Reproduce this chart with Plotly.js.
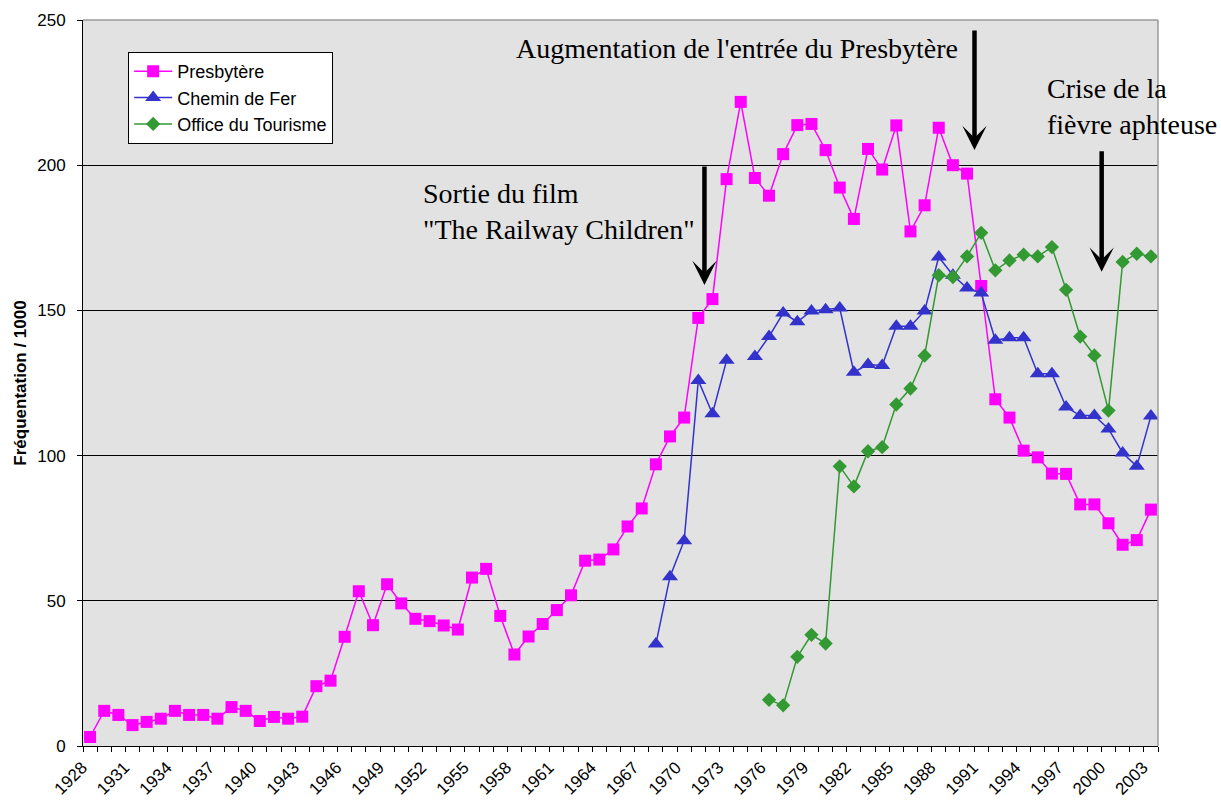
<!DOCTYPE html>
<html>
<head>
<meta charset="utf-8">
<script src="https://cdn.plot.ly/plotly-3.0.1.min.js"></script>
<style>html,body{margin:0;padding:0;background:#fff;}#chart{width:1221px;height:800px;}</style>
</head>
<body>
<div id="chart"></div>
<script>
const years = [1928,1929,1930,1931,1932,1933,1934,1935,1936,1937,1938,1939,1940,1941,1942,1943,1944,1945,1946,1947,1948,1949,1950,1951,1952,1953,1954,1955,1956,1957,1958,1959,1960,1961,1962,1963,1964,1965,1966,1967,1968,1969,1970,1971,1972,1973,1974,1975,1976,1977,1978,1979,1980,1981,1982,1983,1984,1985,1986,1987,1988,1989,1990,1991,1992,1993,1994,1995,1996,1997,1998,1999,2000,2001,2002,2003];

const presbytere = [3.1,12.1,10.7,7.2,8.3,9.4,12.1,10.7,10.7,9.4,13.4,12.1,8.6,10.0,9.4,10.1,20.6,22.5,37.6,53.3,41.6,55.7,49.1,43.8,43.0,41.5,40.1,58.0,61.0,44.8,31.5,37.7,42.0,46.8,51.9,63.8,64.2,67.7,75.6,81.8,97.0,106.6,113.1,147.4,153.9,195.2,221.8,195.6,189.5,203.8,213.8,214.2,205.2,192.3,181.5,205.6,198.5,213.7,177.2,186.2,212.9,200.0,197.1,158.4,119.4,113.1,101.7,99.4,93.8,93.7,83.2,83.2,76.7,69.3,70.9,81.4];

const cheminDeFer = [null,null,null,null,null,null,null,null,null,null,null,null,null,null,null,null,null,null,null,null,null,null,null,null,null,null,null,null,null,null,null,null,null,null,null,null,null,null,null,null,35.1,58.3,70.7,125.9,114.4,132.8,null,134.1,141.0,149.1,146.1,149.8,150.2,150.8,128.7,131.4,131.0,144.5,144.5,149.8,168.4,162.1,157.7,156.0,139.7,140.6,140.6,128.2,128.2,116.7,113.8,113.8,109.2,100.9,96.3,113.6];

const officeTourisme = [null,null,null,null,null,null,null,null,null,null,null,null,null,null,null,null,null,null,null,null,null,null,null,null,null,null,null,null,null,null,null,null,null,null,null,null,null,null,null,null,null,null,null,null,null,null,null,null,15.9,14.0,30.7,38.3,35.3,96.3,89.4,101.5,102.9,117.6,123.1,134.4,162.1,161.5,168.6,176.7,163.8,167.2,169.2,168.6,171.8,157.1,141.0,134.5,115.5,166.7,169.5,168.6];

const tickLabels = ["1928","1931","1934","1937","1940","1943","1946","1949","1952","1955","1958","1961","1964","1967","1970","1973","1976","1979","1982","1985","1988","1991","1994","1997","2000","2003"];
const yTicks = [0,50,100,150,200,250];

const seriesNames = ["Presbytère","Chemin de Fer","Office du Tourisme"];

const sans = "Liberation Sans, Arial, sans-serif";
const serif = "Liberation Serif, Times New Roman, serif";

const traces = [
  {x: years, y: presbytere, name: seriesNames[0], type: 'scatter', mode: 'lines+markers',
   line: {color: '#ff00ff', width: 1.5},
   marker: {symbol: 'square', size: 12, color: '#ff00ff', line: {width: 0}}},
  {x: years, y: cheminDeFer, name: seriesNames[1], type: 'scatter', mode: 'lines+markers', connectgaps: false,
   line: {color: '#3333cc', width: 1.5},
   marker: {symbol: 'triangle-up', size: 14, color: '#3333cc', line: {width: 0}}},
  {x: years, y: officeTourisme, name: seriesNames[2], type: 'scatter', mode: 'lines+markers', connectgaps: false,
   line: {color: '#339933', width: 1.5},
   marker: {symbol: 'diamond', size: 11, color: '#339933', line: {width: 0}}}
];

const layout = {
  width: 1221, height: 800,
  margin: {l: 83, r: 63, t: 20, b: 54, pad: 0},
  paper_bgcolor: '#ffffff',
  plot_bgcolor: '#e2e2e2',
  showlegend: true,
  legend: {x: 0.042, y: 0.956, xanchor: 'left', yanchor: 'top',
    bgcolor: '#ffffff', bordercolor: '#000000', borderwidth: 1, itemwidth: 38,
    font: {family: sans, size: 18, color: '#000'}},
  xaxis: {
    type: 'linear', range: [1927.5, 2003.5], autorange: false,
    tickmode: 'array', tickvals: tickLabels.map(Number), ticktext: tickLabels,
    ticks: '', tickangle: -45, showgrid: false, zeroline: false,
    ticklabelshift: -8, ticklabelstandoff: 4,
    showline: true, linecolor: '#000', linewidth: 1,
    tickfont: {family: sans, size: 17, color: '#000'},
    minor: {tickmode: 'linear', tick0: 1927.5, dtick: 1, ticks: 'outside', ticklen: 5, tickcolor: '#000', tickwidth: 1, showgrid: false},
    automargin: false, fixedrange: true
  },
  yaxis: {
    range: [0, 250], autorange: false,
    tickmode: 'array', tickvals: yTicks,
    ticks: 'outside', ticklen: 5, tickcolor: '#000', tickwidth: 1,
    ticklabelstandoff: 8,
    showgrid: true, gridcolor: '#000000', gridwidth: 1, zeroline: false,
    showline: true, linecolor: '#000', linewidth: 1,
    tickfont: {family: sans, size: 17, color: '#000'},
    title: {text: 'Fréquentation / 1000', font: {family: sans, size: 17, color: '#000', weight: 'bold'}, standoff: 6},
    automargin: false, fixedrange: true
  },
  shapes: [
    {type: 'line', xref: 'paper', yref: 'paper', x0: 0, x1: 1, y0: 1, y1: 1, line: {color: '#9a9a9a', width: 1.5}, layer: 'above'},
    {type: 'line', xref: 'paper', yref: 'paper', x0: 1, x1: 1, y0: 0, y1: 1, line: {color: '#9a9a9a', width: 1.5}, layer: 'above'}
  ],
  annotations: [
    {xref: 'paper', yref: 'paper', x: 0.4009, y: 0.9614, xanchor: 'left', yanchor: 'middle', showarrow: false,
     text: "Augmentation de l'entrée du Presbytère", font: {family: serif, size: 28, color: '#000'}},
    {xref: 'paper', yref: 'paper', x: 0.3141, y: 0.7362, xanchor: 'left', yanchor: 'middle', showarrow: false, align: 'left',
     text: 'Sortie du film<br>"The Railway Children"', font: {family: serif, size: 28, color: '#000'}},
    {xref: 'paper', yref: 'paper', x: 0.8949, y: 0.8803, xanchor: 'left', yanchor: 'middle', showarrow: false, align: 'left',
     text: 'Crise de la<br>fièvre aphteuse', font: {family: serif, size: 28, color: '#000'}},
    {xref: 'paper', yref: 'paper', x: 0.5781, y: 0.635, text: '', showarrow: true, ax: 0, ay: -120, axref: 'pixel', ayref: 'pixel',
     arrowhead: 3, arrowsize: 0.9, arrowwidth: 4.5, arrowcolor: '#000', standoff: 0},
    {xref: 'paper', yref: 'paper', x: 0.8293, y: 0.8209, text: '', showarrow: true, ax: 0, ay: -121, axref: 'pixel', ayref: 'pixel',
     arrowhead: 3, arrowsize: 0.9, arrowwidth: 4.5, arrowcolor: '#000', standoff: 0},
    {xref: 'paper', yref: 'paper', x: 0.9476, y: 0.6533, text: '', showarrow: true, ax: 0, ay: -122, axref: 'pixel', ayref: 'pixel',
     arrowhead: 3, arrowsize: 0.9, arrowwidth: 4.5, arrowcolor: '#000', standoff: 0}
  ]
};

Plotly.newPlot('chart', traces, layout, {staticPlot: true, displayModeBar: false});
</script>
</body>
</html>
